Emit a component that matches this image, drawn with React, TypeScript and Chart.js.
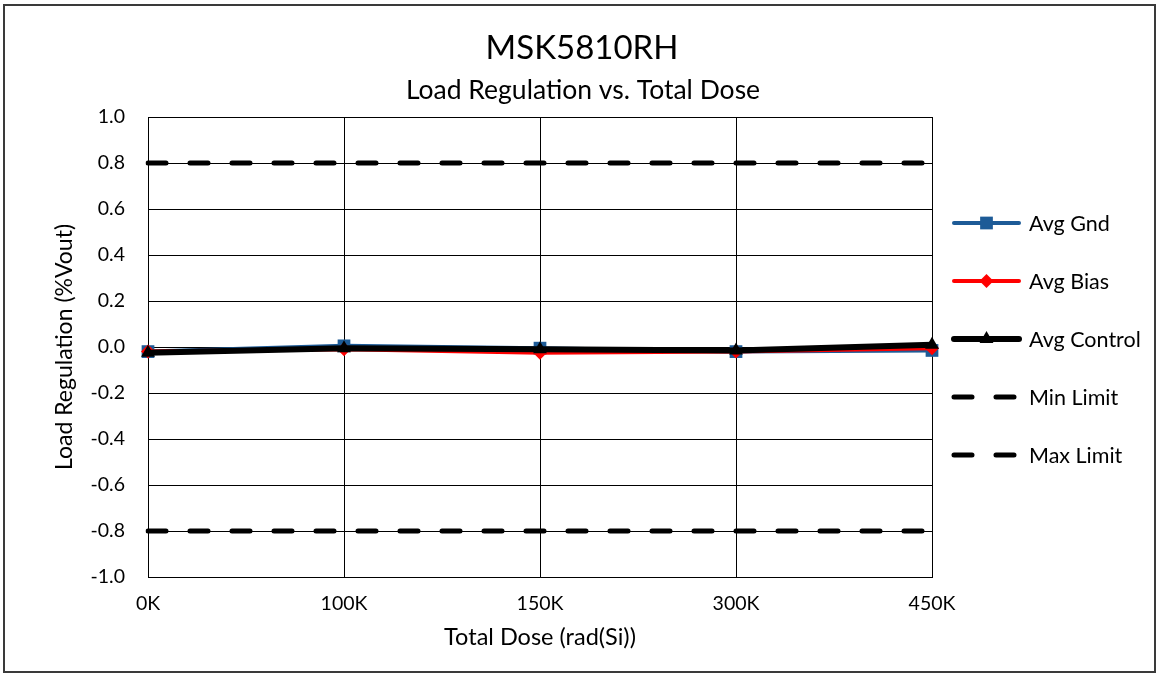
import React, { useEffect, useRef } from "react";
import { Chart, registerables } from "chart.js";

Chart.register(...registerables);

const categories = ["0K", "100K", "150K", "300K", "450K"];
const avgGnd = [-0.02, 0.005, -0.005, -0.02, -0.015];
const avgBias = [-0.02, -0.01, -0.025, -0.02, -0.005];
const avgControl = [-0.025, -0.005, -0.01, -0.015, 0.01];
const minLimit = [-0.8, -0.8, -0.8, -0.8, -0.8];
const maxLimit = [0.8, 0.8, 0.8, 0.8, 0.8];

const titleText = "MSK5810RH";
const subtitleText = "Load Regulation vs. Total Dose";
const yTitle = "Load Regulation (%Vout)";
const xTitle = "Total Dose (rad(Si))";

const FONT = "Lato";
const BLUE = "#1d5b97";
const RED = "#ff0000";

const W = 1159;
const H = 675;

export default function App() {
  const ref = useRef<HTMLCanvasElement | null>(null);

  useEffect(() => {
    document.body.style.margin = "0";
    const canvas = ref.current;
    if (!canvas) return;

    const decorPlugin = {
      id: "decor",
      afterDraw(chart: any) {
        const ctx = chart.ctx;
        ctx.save();
        // border
        ctx.strokeStyle = "#3a3a3a";
        ctx.lineWidth = 2;
        ctx.strokeRect(4, 5, W - 8, H - 8);
        // titles
        ctx.fillStyle = "#000";
        ctx.textAlign = "center";
        ctx.textBaseline = "middle";
        ctx.font = `33px ${FONT}`;
        ctx.fillText(titleText, 582, 48);
        ctx.font = `26.5px ${FONT}`;
        ctx.fillText(subtitleText, 583, 90);

        // legend
        const x0 = 952;
        const x1 = 1021;
        const xm = (x0 + x1) / 2;
        const ys = [223, 281, 339, 397, 455];
        chart.data.datasets.forEach((ds: any, i: number) => {
          const y = ys[i];
          ctx.save();
          ctx.strokeStyle = ds.borderColor;
          ctx.lineWidth = ds.borderWidth;
          ctx.lineCap = "round";
          if (ds.borderDash && ds.borderDash.length) {
            ctx.setLineDash(ds.borderDash);
          }
          ctx.beginPath();
          ctx.moveTo(x0 + 2, y);
          ctx.lineTo(x1 - 2, y);
          ctx.stroke();
          ctx.setLineDash([]);
          if (ds.pointStyle && ds.pointRadius > 0) {
            ctx.fillStyle = ds.pointBackgroundColor;
            const r = ds.pointRadius;
            if (ds.pointStyle === "rect") {
              const s = r / Math.SQRT2;
              ctx.fillRect(xm - s, y - s, 2 * s, 2 * s);
            } else if (ds.pointStyle === "rectRot") {
              ctx.beginPath();
              ctx.moveTo(xm, y - r);
              ctx.lineTo(xm + r, y);
              ctx.lineTo(xm, y + r);
              ctx.lineTo(xm - r, y);
              ctx.closePath();
              ctx.fill();
            } else if (ds.pointStyle === "triangle") {
              const a = Math.PI / 2;
              ctx.beginPath();
              for (let k = 0; k < 3; k++) {
                const ang = -a + (k * 2 * Math.PI) / 3;
                const px = xm + Math.cos(ang) * r;
                const py = y + Math.sin(ang) * r;
                if (k === 0) ctx.moveTo(px, py);
                else ctx.lineTo(px, py);
              }
              ctx.closePath();
              ctx.fill();
            }
          }
          ctx.restore();
          ctx.fillStyle = "#000";
          ctx.textAlign = "left";
          ctx.textBaseline = "middle";
          ctx.font = `21.5px ${FONT}`;
          ctx.fillText(ds.label, 1029, y + 1);
        });
        ctx.restore();
      },
    };

    const chart = new Chart(canvas, {
      type: "line",
      data: {
        labels: categories,
        datasets: [
          {
            label: "Avg Gnd",
            data: avgGnd,
            borderColor: BLUE,
            backgroundColor: BLUE,
            pointBackgroundColor: BLUE,
            pointBorderColor: BLUE,
            borderWidth: 4,
            pointStyle: "rect",
            pointRadius: 9,
            pointBorderWidth: 0,
            order: 3,
          },
          {
            label: "Avg Bias",
            data: avgBias,
            borderColor: RED,
            backgroundColor: RED,
            pointBackgroundColor: RED,
            pointBorderColor: RED,
            borderWidth: 4,
            pointStyle: "rectRot",
            pointRadius: 7,
            pointBorderWidth: 0,
            order: 2,
          },
          {
            label: "Avg Control",
            data: avgControl,
            borderColor: "#000",
            backgroundColor: "#000",
            pointBackgroundColor: "#000",
            pointBorderColor: "#000",
            borderWidth: 6,
            pointStyle: "triangle",
            pointRadius: 8,
            pointBorderWidth: 0,
            order: 1,
          },
          {
            label: "Min Limit",
            data: minLimit,
            borderColor: "#000",
            backgroundColor: "#000",
            borderWidth: 5,
            borderDash: [18, 24],
            borderCapStyle: "round",
            pointRadius: 0,
            pointStyle: false as any,
            order: 4,
          },
          {
            label: "Max Limit",
            data: maxLimit,
            borderColor: "#000",
            backgroundColor: "#000",
            borderWidth: 5,
            borderDash: [18, 24],
            borderCapStyle: "round",
            pointRadius: 0,
            pointStyle: false as any,
            order: 4,
          },
        ] as any,
      },
      options: {
        responsive: false,
        animation: false,
        devicePixelRatio: 1,
        layout: { padding: { top: 117, left: 10, right: 227, bottom: 10 } },
        plugins: {
          legend: { display: false },
          title: { display: false },
          tooltip: { enabled: false },
        },
        elements: { line: { tension: 0 } },
        scales: {
          x: {
            offset: false,
            grid: { color: "#000", lineWidth: 1, drawTicks: false, offset: false },
            border: { color: "#000", width: 1 },
            ticks: {
              color: "#000",
              font: { family: FONT, size: 19.5 },
              padding: 15,
              maxRotation: 0,
            },
            title: {
              display: true,
              text: xTitle,
              color: "#000",
              font: { family: FONT, size: 23.5 },
              padding: { top: 0, bottom: 13 },
            },
            afterFit(scale: any) {
              scale.height = H - 10 - 577;
            },
          },
          y: {
            min: -1,
            max: 1,
            grid: { color: "#000", lineWidth: 1, drawTicks: false },
            border: { color: "#000", width: 1 },
            ticks: {
              stepSize: 0.2,
              color: "#000",
              font: { family: FONT, size: 19.5 },
              padding: 23,
              callback: (v: any) => {
                const n = Number(v);
                return Math.abs(n) < 1e-9 ? "0.0" : n.toFixed(1);
              },
            },
            title: {
              display: true,
              text: yTitle,
              color: "#000",
              font: { family: FONT, size: 23 },
              padding: { top: 41, bottom: 0 },
            },
            afterFit(scale: any) {
              scale.width = 148 - 10;
            },
          },
        },
      } as any,
      plugins: [decorPlugin],
    });

    return () => {
      chart.destroy();
    };
  }, []);

  return (
    <div style={{ width: W, height: H, position: "relative" }}>
      <canvas ref={ref} width={W} height={H} style={{ display: "block" }} />
    </div>
  );
}
